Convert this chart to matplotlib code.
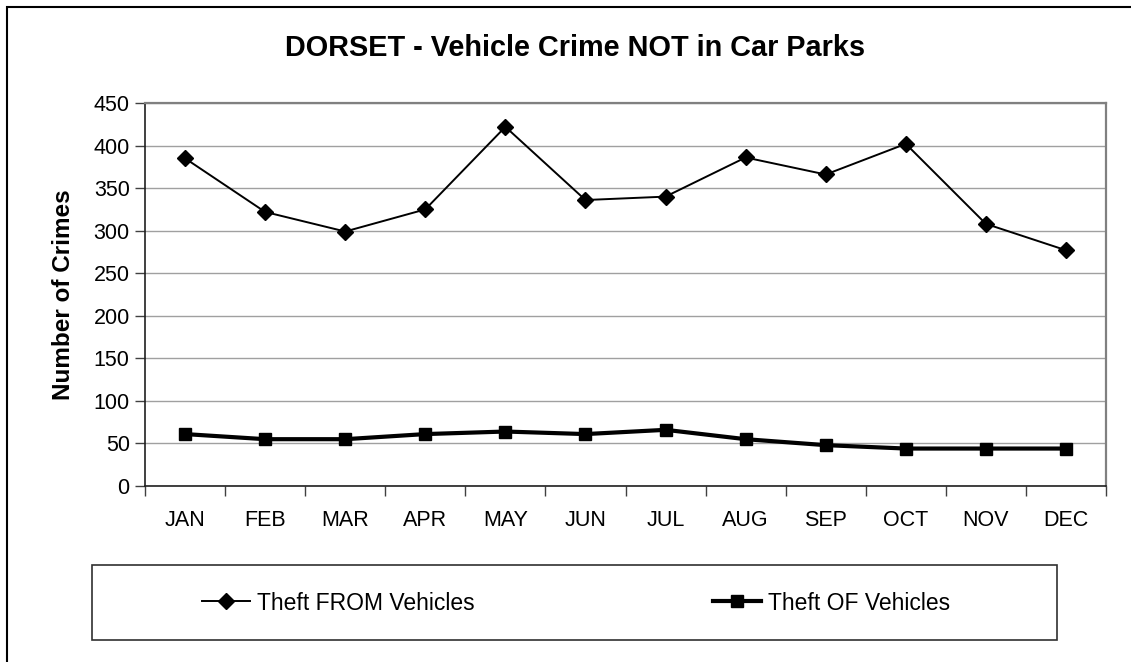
import matplotlib.pyplot as plt
from matplotlib.patches import Rectangle
import numpy as np

months = ["JAN", "FEB", "MAR", "APR", "MAY", "JUN",
          "JUL", "AUG", "SEP", "OCT", "NOV", "DEC"]
theft_from = [385, 322, 299, 325, 422, 336, 340, 386, 366, 402, 308, 277]
theft_of = [61, 55, 55, 61, 64, 61, 66, 55, 48, 44, 44, 44]

plt.rcParams['font.family'] = ['Liberation Sans', 'DejaVu Sans']

fig = plt.figure(figsize=(11.31, 6.62), dpi=100)
W, H = 1131, 662

# outer chart frame (runs off the right and bottom edge)
fig.patches.append(Rectangle((7 / W, -0.1), 1.2, 1 - 7 / H + 0.1,
                             transform=fig.transFigure, fill=False,
                             edgecolor='black', linewidth=1.5))

ax = fig.add_axes([145 / W, 1 - 486 / H, 961 / W, 383 / H])
x = np.arange(len(months))

ax.plot(x, theft_from, color='black', linewidth=1.4, marker='D',
        markersize=8, label='Theft FROM Vehicles')
ax.plot(x, theft_of, color='black', linewidth=3, marker='s',
        markersize=8, label='Theft OF Vehicles')

ax.set_xlim(-0.5, len(months) - 0.5)
ax.set_ylim(0, 450)
ax.set_yticks(range(0, 451, 50))
ax.set_xticks(x)
ax.set_xticklabels(months)
ax.set_xticks(np.arange(-0.5, len(months), 1), minor=True)
ax.tick_params(axis='x', which='major', length=0, pad=17, labelsize=15.5)
ax.tick_params(axis='x', which='minor', length=7, width=1, color='#404040')
ax.tick_params(axis='y', length=7, width=1, color='#404040', labelsize=15.5, pad=4)

ax.grid(axis='y', color='#a0a0a0', linewidth=1)
ax.set_axisbelow(True)
for side in ['top', 'right']:
    ax.spines[side].set_color('#808080')
    ax.spines[side].set_linewidth(1.6)
for side in ['left', 'bottom']:
    ax.spines[side].set_color('#202020')
    ax.spines[side].set_linewidth(1.2)

ax.set_ylabel('Number of Crimes', fontsize=17.5, fontweight='bold', labelpad=13)
fig.text(575 / W, 1 - 48 / H, 'DORSET - Vehicle Crime NOT in Car Parks',
         ha='center', va='center', fontsize=20.8, fontweight='bold')

# legend box below the plot
fig.patches.append(Rectangle((92 / W, 1 - 640 / H), 965 / W, 75 / H,
                             transform=fig.transFigure, fill=False,
                             edgecolor='#303030', linewidth=1.2))
fig.legend(loc='center', bbox_to_anchor=(576 / W, 1 - 603 / H), ncol=2,
           frameon=False, fontsize=16.5, handlelength=2.1, handletextpad=0.3,
           columnspacing=10.4)

fig.savefig('out.png', dpi=100)
